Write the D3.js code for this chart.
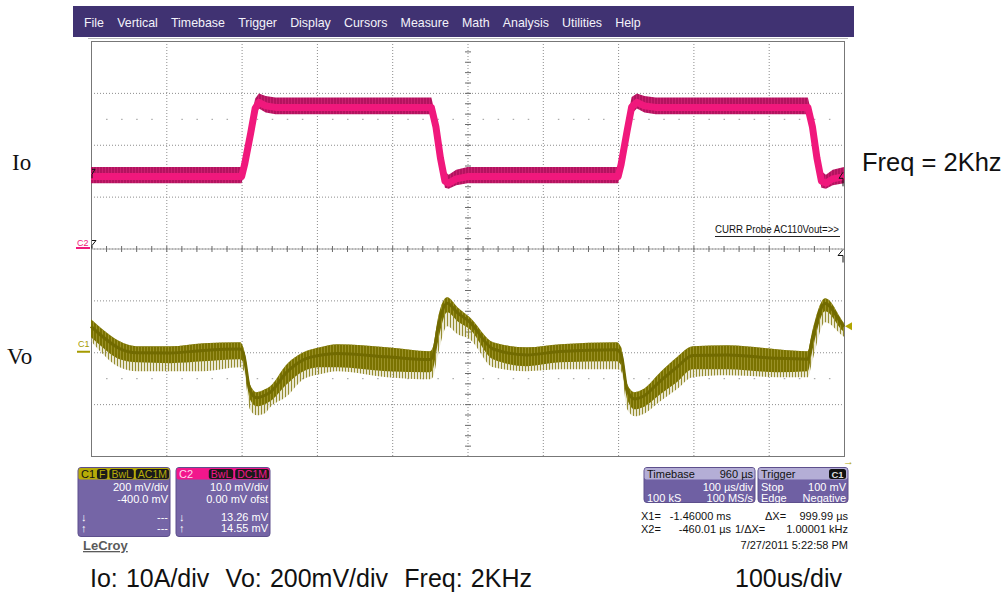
<!DOCTYPE html>
<html><head><meta charset="utf-8">
<script src="https://cdn.jsdelivr.net/npm/d3@7"></script>
<style>body{margin:0;background:#fff;} svg{display:block;} text{font-family:"Liberation Sans",Arial,sans-serif;}</style>
</head><body><svg id="c" width="1006" height="592"></svg>
<script>
// ---------------- data ----------------
const menuItems = ["File","Vertical","Timebase","Trigger","Display","Cursors","Measure","Math","Analysis","Utilities","Help"];
const timeDivs = [0,100,200,300,400,500,600,700,800,900,1000];     // µs, 100 µs/div
const vertDivs = [-4,-3,-2,-1,0,1,2,3,4];
// Io (C2), amps, 10 A/div; band envelope
const ioTime  = [0,200,204,212,218,223,232,245,452,458,464,470,475,485,500,700,704,712,718,725,735,750,952,958,964,970,976,985,1000];
const ioUpper = [15.3,15.3,18,24,28.5,29.5,29.0,28.7,28.7,25,19,14.5,13.8,14.8,15.3,15.3,18,24.5,28.8,29.5,29,28.7,28.7,25,19,14.5,13.8,14.8,15.3];
const ioLower = [12.9,12.9,15,21,26,27.3,26.5,26.2,26.2,22.5,16.5,12,11.8,12.5,12.9,12.9,15,21.5,26.3,27.3,26.5,26.2,26.2,22.5,16.5,12,11.8,12.5,12.9];
// Vo (C1), mV, 200 mV/div, AC coupled
const voTime   = [0,12,38,61,105,149,198,203,211,220,231,238,260,282,304,327,393,450,454,461,473,487,503,534,579,623,698,704,712,722,733,756,778,799,845,911,952,957,975,999,1000];
const voTop    = [127,96,42,23,23,35,39,12,-123,-154,-143,-131,-46,0,19,31,19,4,19,135,212,173,135,39,19,31,39,19,-123,-154,-143,-77,-19,23,27,12,4,69,208,116,112];
const voBottom = [58,27,-27,-39,-42,-35,-27,-46,-181,-208,-200,-189,-123,-73,-58,-58,-73,-77,-66,42,154,119,89,-27,-54,-39,-35,-50,-181,-220,-212,-162,-116,-66,-66,-77,-73,-8,158,81,79];
const voSpike  = [42,4,-58,-73,-73,-73,-58,-73,-220,-243,-235,-212,-170,-104,-85,-73,-96,-104,-96,-8,100,69,50,-58,-73,-66,-66,-73,-220,-247,-239,-189,-143,-96,-89,-96,-96,-46,116,62,60];
// channel descriptor texts
const c1Badges = ["F","BwL","AC1M"];
const c1Lines  = ["200 mV/div","-400.0 mV","---","---"];
const c2Badges = ["BwL","DC1M"];
const c2Lines  = ["10.0 mV/div","0.00 mV ofst","13.26 mV","14.55 mV"];
const tbHead = ["Timebase","960 µs"];
const tbLines = [["","100 µs/div"],["100 kS","100 MS/s"]];
const trHead = ["Trigger","C1"];
const trLines = [["Stop","100 mV"],["Edge","Negative"]];
const cursorRows = [["X1=","-1.46000 ms","ΔX=","999.99 µs"],["X2=","-460.01 µs","1/ΔX=","1.00001 kHz"]];
const dateText = "7/27/2011 5:22:58 PM";
const probeText = "CURR Probe AC110Vout=>>";
const bottomLeft = "Io: 10A/div  Vo: 200mV/div  Freq: 2KHz";
const bottomRight = "100us/div";

// ---------------- scales ----------------
const svg = d3.select("#c");
const x   = d3.scaleLinear().domain([0,1000]).range([91,844]);
const yDiv= d3.scaleLinear().domain([-4,4]).range([456,41]);
const yIo = d3.scaleLinear().domain([-40,40]).range([456,41]);
const yVo = d3.scaleLinear().domain([-400,1200]).range([456,41]);

const defs = svg.append("defs");
function stripe(id, w, base, line, lw){
  const p = defs.append("pattern").attr("id",id).attr("width",w).attr("height",8).attr("patternUnits","userSpaceOnUse");
  if(base) p.append("rect").attr("width",w).attr("height",8).attr("fill",base);
  p.append("rect").attr("width",lw).attr("height",8).attr("fill",line);
}
stripe("ioFringe",3,"#b3135f","#c8206f",1);
stripe("voMain",3,"#7a7200","#9a9128",1);
stripe("voSpk2",3,"rgba(195,189,130,0.35)","#958c30",1);

// ---------------- menu bar ----------------
svg.append("rect").attr("x",73).attr("y",6).attr("width",781).attr("height",31).attr("fill","#403272");
let mx = 84;
menuItems.forEach(m=>{
  const t = svg.append("text").attr("x",mx).attr("y",26.5).attr("fill","#f4f2fa").attr("font-size",12.4).text(m);
  mx += t.node().getComputedTextLength() + 13.2;
});

// ---------------- grid ----------------
const grid = svg.append("g");
grid.append("line").attr("x1",88).attr("x2",848).attr("y1",38.5).attr("y2",38.5).attr("stroke","#b8b8b8");
timeDivs.slice(1,-1).forEach(t=>{
  grid.append("line").attr("x1",x(t)+0.5).attr("x2",x(t)+0.5).attr("y1",yDiv(4)).attr("y2",yDiv(-4))
    .attr("stroke","#8c8c8c").attr("stroke-dasharray","1,2");
});
vertDivs.slice(1,-1).forEach(v=>{
  grid.append("line").attr("y1",yDiv(v)+0.5).attr("y2",yDiv(v)+0.5).attr("x1",x(0)).attr("x2",x(1000))
    .attr("stroke","#8c8c8c").attr("stroke-dasharray","1,2");
});
// centre axes with minor ticks
grid.append("line").attr("x1",x(0)).attr("x2",x(1000)).attr("y1",yDiv(0)+0.5).attr("y2",yDiv(0)+0.5).attr("stroke","#a0a0a0");
d3.range(20,1000,20).forEach(t=>{
  grid.append("line").attr("x1",x(t)+0.5).attr("x2",x(t)+0.5).attr("y1",yDiv(0)-2.5).attr("y2",yDiv(0)+3.5).attr("stroke","#6a6a6a");
  if(t%100!==0){
    [2.5,-2.5].forEach(v=>grid.append("rect").attr("x",x(t)).attr("y",yDiv(v)).attr("width",1.5).attr("height",1).attr("fill","#9a9a9a"));
  }
});
d3.range(-3.8,4,0.2).forEach(v=>{
  grid.append("line").attr("x1",x(500)-2.5).attr("x2",x(500)+3.5).attr("y1",yDiv(v)+0.5).attr("y2",yDiv(v)+0.5).attr("stroke","#6a6a6a");
});
grid.append("rect").attr("x",x(0)+0.5).attr("y",yDiv(4)+0.5).attr("width",x(1000)-x(0)).attr("height",yDiv(-4)-yDiv(4))
  .attr("fill","none").attr("stroke","#777");

// ---------------- traces ----------------
const ioData = ioTime.map((t,i)=>({t,u:ioUpper[i],l:ioLower[i]}));
const voData = voTime.map((t,i)=>({t,a:voTop[i],b:voBottom[i],s:voSpike[i]}));
const tr = svg.append("g");
// Vo
tr.append("path").datum(voData).attr("fill","url(#voSpk2)")
  .attr("d",d3.area().x(d=>x(d.t)).y0(d=>yVo(d.s)).y1(d=>yVo(d.a)).curve(d3.curveMonotoneX));
tr.append("path").datum(voData).attr("fill","url(#voMain)")
  .attr("d",d3.area().x(d=>x(d.t)).y0(d=>yVo(d.b)).y1(d=>yVo(d.a)).curve(d3.curveMonotoneX));
tr.append("path").datum(voData).attr("fill","none").attr("stroke","#716a00").attr("stroke-width",3)
  .attr("d",d3.line().x(d=>x(d.t)).y(d=>yVo(d.a*0.6+d.b*0.4)).curve(d3.curveMonotoneX));
// Io
tr.append("path").datum(ioData).attr("fill","url(#ioFringe)")
  .attr("d",d3.area().x(d=>x(d.t)).y0(d=>yIo(d.l-0.3)).y1(d=>yIo(d.u+0.4)));
tr.append("path").datum(ioData).attr("fill","none").attr("stroke","#f0187c").attr("stroke-width",7).attr("stroke-linejoin","round")
  .attr("d",d3.line().x(d=>x(d.t)).y(d=>yIo(d.u*0.4+d.l*0.6)));

// ---------------- markers ----------------
const mk = svg.append("g").attr("fill","none").attr("stroke","#111").attr("stroke-width",1);
const yC2 = yIo(0), yC1 = yVo(0);
mk.append("path").attr("d",`M92,${yC2-8} L96,${yC2-8} L92,${yC2-3} L92,${yC2}`);
mk.append("path").attr("d",`M92,${yIo(14.3)-5} L95,${yIo(14.3)-5} L92,${yIo(14.3)} L92,${yIo(14.3)+4}`);
mk.append("path").attr("d",`M843,${yC2+1} L838,${yC2+7} L843,${yC2+7} L843,${yC2+14}`);
mk.append("path").attr("d",`M843,${yIo(14.3)-2} L839,${yIo(14.3)+4} L843,${yIo(14.3)+4} L843,${yIo(14.3)+12}`);
svg.append("text").attr("x",77).attr("y",yC2-3).attr("font-size",9).attr("fill","#f0187c").text("C2");
svg.append("rect").attr("x",76).attr("y",yC2-1.5).attr("width",14).attr("height",2).attr("fill","#f0187c");
svg.append("text").attr("x",78).attr("y",yC1-5).attr("font-size",9).attr("fill","#a59a00").text("C1");
svg.append("rect").attr("x",77).attr("y",yC1-1.5).attr("width",13).attr("height",2).attr("fill","#a59a00");
svg.append("path").attr("d",`M845,${yVo(100)} L852,${yVo(100)-4} L852,${yVo(100)+4} Z`).attr("fill","#b0a500");
svg.append("text").attr("x",843).attr("y",465).attr("font-size",11).attr("fill","#b0a500").text("→");
// probe text
svg.append("text").attr("x",715).attr("y",233).attr("font-size",10).attr("fill","#111")
  .attr("textLength",124).attr("lengthAdjust","spacingAndGlyphs").text(probeText);
svg.append("line").attr("x1",715).attr("x2",840).attr("y1",236.5).attr("y2",236.5).attr("stroke","#222");

// ---------------- channel boxes ----------------
const fs = 11;
function chanBox(x0, w, head, label, labelColor, badges, lines){
  const g = svg.append("g");
  g.append("rect").attr("x",x0).attr("y",467.5).attr("width",w).attr("height",69).attr("rx",3).attr("fill","#7565a6").attr("stroke","#5d4f8c");
  g.append("rect").attr("x",x0+0.5).attr("y",468).attr("width",w-1).attr("height",11.5).attr("rx",2).attr("fill",head);
  g.append("text").attr("x",x0+3).attr("y",478).attr("font-size",fs).attr("fill",labelColor).text(label);
  let bx = x0 + w - 2;
  badges.slice().reverse().forEach(b=>{
    const t = g.append("text").attr("y",477.5).attr("font-size",10.5).attr("fill",head).attr("text-anchor","end").text(b);
    const tw = t.node().getComputedTextLength();
    g.insert("rect","text:last-of-type").attr("x",bx-tw-3).attr("y",469).attr("width",tw+4).attr("height",10).attr("rx",2.5).attr("fill","#1a1a1a");
    t.attr("x",bx-1).raise();
    bx -= tw + 6;
  });
  const ys = [491,503,521,532];
  lines.forEach((l,i)=>g.append("text").attr("x",x0+w-2).attr("y",ys[i]).attr("font-size",fs).attr("fill","#fff").attr("text-anchor","end").text(l));
  g.append("text").attr("x",x0+3).attr("y",521).attr("font-size",fs).attr("fill","#fff").text("↓");
  g.append("text").attr("x",x0+3).attr("y",532).attr("font-size",fs).attr("fill","#fff").text("↑");
}
chanBox(78, 92, "#b6ab08", "C1", "#111", c1Badges, c1Lines);
chanBox(176, 94, "#f2168c", "C2", "#ffd6ec", c2Badges, c2Lines);
svg.append("text").attr("x",83).attr("y",550).attr("font-size",13).attr("font-weight","bold").attr("fill","#5a5a5a")
  .attr("text-decoration","underline").text("LeCroy");

function tbBox(x0, w, head, lines, badge){
  const g = svg.append("g");
  g.append("rect").attr("x",x0).attr("y",467.5).attr("width",w).attr("height",35).attr("rx",3).attr("fill","#6f60a3").attr("stroke","#5d4f8c");
  g.append("rect").attr("x",x0+0.5).attr("y",468).attr("width",w-1).attr("height",11.5).attr("rx",2).attr("fill","#b4aed6");
  g.append("text").attr("x",x0+3).attr("y",477.5).attr("font-size",fs).attr("fill","#111").text(head[0]);
  if(badge){
    g.append("rect").attr("x",x0+w-19).attr("y",469).attr("width",17).attr("height",10).attr("rx",2.5).attr("fill","#111");
    g.append("text").attr("x",x0+w-10.5).attr("y",477.5).attr("font-size",9.5).attr("font-weight","bold").attr("fill","#ddd").attr("text-anchor","middle").text(head[1]);
  } else {
    g.append("text").attr("x",x0+w-2).attr("y",477.5).attr("font-size",fs).attr("fill","#111").attr("text-anchor","end").text(head[1]);
  }
  const ys=[490.5,501.5];
  lines.forEach((l,i)=>{
    g.append("text").attr("x",x0+3).attr("y",ys[i]).attr("font-size",fs).attr("fill","#fff").text(l[0]);
    g.append("text").attr("x",x0+w-2).attr("y",ys[i]).attr("font-size",fs).attr("fill","#fff").attr("text-anchor","end").text(l[1]);
  });
}
tbBox(644, 111, tbHead, tbLines, false);
tbBox(758, 90, trHead, trLines, true);
const cy=[520,533];
cursorRows.forEach((r,i)=>{
  svg.append("text").attr("x",641).attr("y",cy[i]).attr("font-size",fs).attr("fill","#111").text(r[0]);
  svg.append("text").attr("x",731).attr("y",cy[i]).attr("font-size",fs).attr("fill","#111").attr("text-anchor","end").text(r[1]);
  svg.append("text").attr("x",i===0?765:735).attr("y",cy[i]).attr("font-size",fs).attr("fill","#111").text(r[2]);
  svg.append("text").attr("x",848).attr("y",cy[i]).attr("font-size",fs).attr("fill","#111").attr("text-anchor","end").text(r[3]);
});
svg.append("text").attr("x",848).attr("y",549).attr("font-size",fs).attr("fill","#111").attr("text-anchor","end").text(dateText);

// ---------------- annotations ----------------
const serif = "'Liberation Serif','Times New Roman',serif";
svg.append("text").attr("x",12).attr("y",170).attr("font-size",23).style("font-family",serif).attr("fill","#111").text("Io");
svg.append("text").attr("x",7).attr("y",364).attr("font-size",23).style("font-family",serif).attr("fill","#111").text("Vo");
svg.append("text").attr("x",862).attr("y",171).attr("font-size",25.5).attr("fill","#111").text("Freq = 2Khz");
svg.append("text").attr("x",90).attr("y",587).attr("font-size",25).attr("fill","#111").style("white-space","pre").style("word-spacing","1.2px").text(bottomLeft);
svg.append("text").attr("x",735).attr("y",587).attr("font-size",25).attr("fill","#111").text(bottomRight);
</script></body></html>
